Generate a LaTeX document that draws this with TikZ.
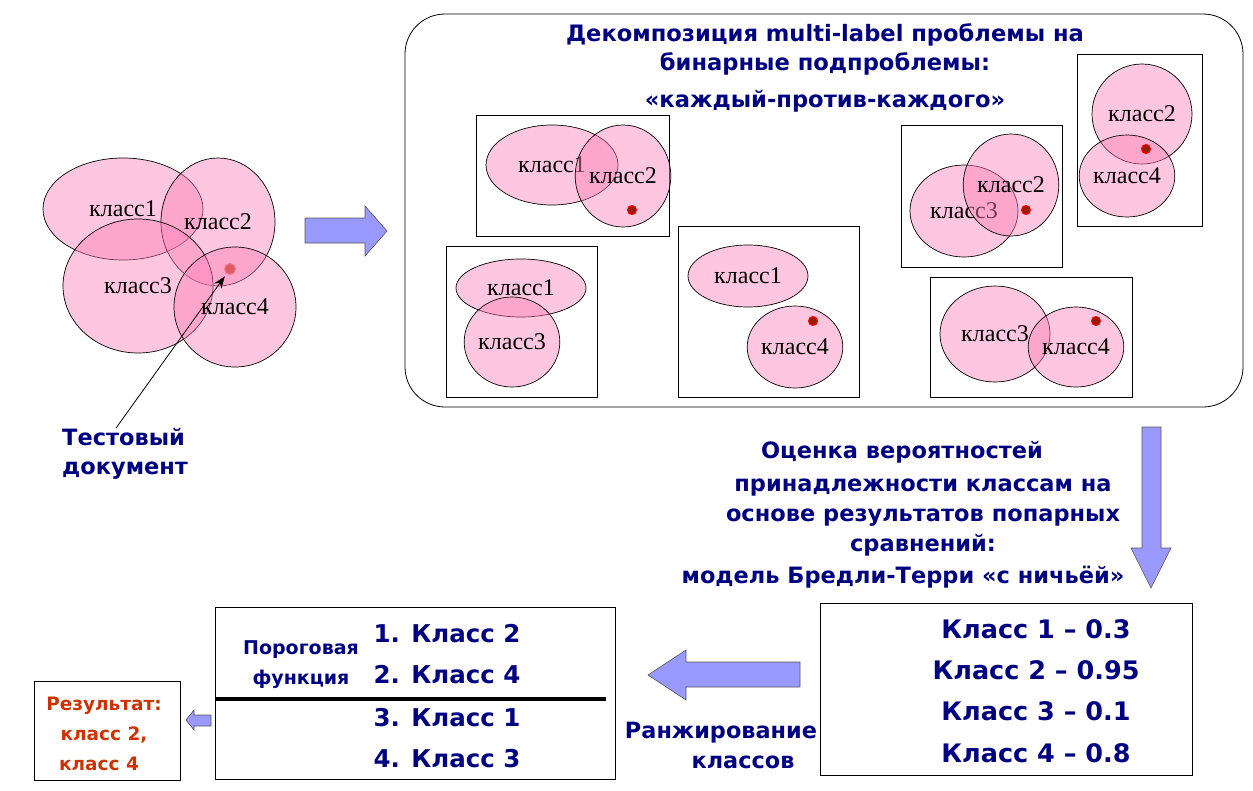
\documentclass[tikz,border=0pt]{standalone}
\usepackage{fontspec}
\setmainfont{Liberation Serif}
\newfontfamily\tahfont{DejaVu Sans}
\usetikzlibrary{arrows.meta,shapes.geometric}
\definecolor{navytext}{RGB}{0,0,128}
\definecolor{resred}{RGB}{204,51,0}
\definecolor{setpink}{RGB}{255,128,184}
\definecolor{arrowblue}{RGB}{153,153,255}
\definecolor{arrowline}{RGB}{85,85,85}
\definecolor{docdot}{RGB}{222,90,100}
\definecolor{subdot}{RGB}{150,30,0}

\begin{document}
\begin{tikzpicture}[x=1pt,y=-1pt,
    set/.style={ellipse,draw=black,line width=0.7pt,fill=setpink,fill opacity=0.45,
                text opacity=1,inner sep=0pt,font=\fontsize{24}{24}\selectfont},
    dot/.style={circle,inner sep=0pt,minimum size=9pt,fill=subdot,draw=red,line width=1pt},
    frame/.style={draw=black,line width=0.8pt},
    fatarrow/.style={draw=arrowline,fill=arrowblue,line width=0.6pt},
    txt/.style={text=navytext,inner sep=0pt,align=center}]
\useasboundingbox (0,0) rectangle (1253,790);

% frames
\draw[frame,rounded corners=40pt] (405,14) rectangle (1243,407);
\draw[frame] (476,115) rectangle (669,236);
\draw[frame] (446,246) rectangle (597,397);
\draw[frame] (678,226) rectangle (859,397);
\draw[frame] (901,125) rectangle (1062,267);
\draw[frame] (1077,54) rectangle (1202,226);
\draw[frame] (930,277) rectangle (1132,397);
\draw[frame] (820,603) rectangle (1192,775);
\draw[frame] (215,607) rectangle (615,779);
\draw[frame] (34,681) rectangle (180,780);
\draw[line width=4pt] (215,699) -- (606,699);

% classes of the test document
\node[set,minimum width=160pt,minimum height=102pt] (c1) at (123,209) {класс1};
\node[set,minimum width=114pt,minimum height=128pt] (c2) at (218,222) {класс2};
\node[set,minimum width=150pt,minimum height=134pt] (c3) at (138,286) {класс3};
\node[set,minimum width=122pt,minimum height=120pt] (c4) at (235,307) {класс4};

% pairwise subproblems
\node[set,minimum width=132pt,minimum height=80pt] (a1) at (552,165) {класс1};
\node[set,minimum width=70pt,minimum height=102pt] (a2) at (623,176) {класс2};
\node[set,minimum width=130pt,minimum height=58pt] (b1) at (521,288) {класс1};
\node[set,minimum width=90pt,minimum height=90pt] (b3) at (512,342) {класс3};
\node[set,minimum width=120pt,minimum height=62pt] (k1) at (748,276) {класс1};
\node[set,minimum width=92pt,minimum height=82pt] (k4) at (795,347) {класс4};
\node[set,minimum width=108pt,minimum height=92pt] (d3) at (964,211) {класс3};
\node[set,minimum width=80pt,minimum height=102pt] (d2) at (1011,185) {класс2};
\node[set,minimum width=100pt,minimum height=100pt] (e2) at (1142,114) {класс2};
\node[set,minimum width=90pt,minimum height=82pt] (e4) at (1127,176) {класс4};
\node[set,minimum width=110pt,minimum height=96pt] (f3) at (995,334) {класс3};
\node[set,minimum width=92pt,minimum height=80pt] (f4) at (1076,347) {класс4};

\begin{scope}[every node/.style={dot}]
    \node[fill=docdot,draw={rgb,255:red,240;green,120;blue,130},minimum size=11pt] (doc) at (230,269) {};
    \node (dA) at (632,210) {};
    \node (dC) at (813,321) {};
    \node (dD) at (1026,210) {};
    \node (dE) at (1146,149) {};
    \node (dF) at (1096,321) {};
\end{scope}

% block arrows
\draw[fatarrow] (305,218) -- (365,218) -- (365,206) -- (387,231) -- (365,256) -- (365,243) -- (305,243) -- cycle;
\draw[fatarrow] (1142,427) -- (1161,427) -- (1161,548) -- (1171,548) -- (1151,588) -- (1131,548) -- (1142,548) -- cycle;
\draw[fatarrow] (800,662) -- (686,662) -- (686,650) -- (648,675) -- (686,700) -- (686,687) -- (800,687) -- cycle;
\draw[fatarrow] (211,715) -- (194,715) -- (194,710) -- (186,720) -- (194,730) -- (194,726) -- (211,726) -- cycle;

% texts
\begin{scope}[every node/.style={txt,font=\tahfont\bfseries\fontsize{22.5}{29}\selectfont}]
    \node[anchor=north west,align=left] (testdoc) at (62,428) {Тестовый\\документ};
    \node[anchor=north,font=\tahfont\bfseries\fontsize{22.6}{29}\selectfont] (title) at (825,23)
        {Декомпозиция multi-label проблемы на\\бинарные подпроблемы:\\[8pt]«каждый-против-каждого»};
    \node[anchor=base] (esthead) at (902,458) {Оценка вероятностей};
    \node[anchor=north,font=\tahfont\bfseries\fontsize{22.5}{30}\selectfont] (esttext) at (923,479)
        {принадлежности классам на\\основе результатов попарных\\сравнений:};
    \node[anchor=base] (btmodel) at (903,583) {модель Бредли-Терри «с ничьёй»};
    \node[anchor=north,font=\tahfont\bfseries\fontsize{25.5}{41.3}\selectfont] (probs) at (1036,619)
        {Класс 1 – 0.3\\Класс 2 – 0.95\\Класс 3 – 0.1\\Класс 4 – 0.8};
    \node[anchor=north,font=\tahfont\bfseries\fontsize{22.4}{30}\selectfont] (ranked) at (721,722)
        {Ранжирование\\\hspace*{44pt}классов};
    \node[anchor=north,font=\tahfont\bfseries\fontsize{24.5}{41}\selectfont] (list) at (447,624)
        {1. Класс 2\\2. Класс 4\\[2pt]3. Класс 1\\4. Класс 3};
    \node[anchor=north,font=\tahfont\bfseries\fontsize{19}{30}\selectfont] (thresh) at (301,640)
        {Пороговая\\функция};
    \node[anchor=north,text=resred,font=\tahfont\bfseries\fontsize{18.5}{30}\selectfont] (result) at (104,697)
        {Результат:\\класс 2,\\\hspace*{-10pt}класс 4};
\end{scope}

\draw[-{Stealth[length=12pt,width=9pt]},line width=0.8pt,shorten >=3pt] ([xshift=-9pt]testdoc.north) -- (doc);
\end{tikzpicture}
\end{document}
